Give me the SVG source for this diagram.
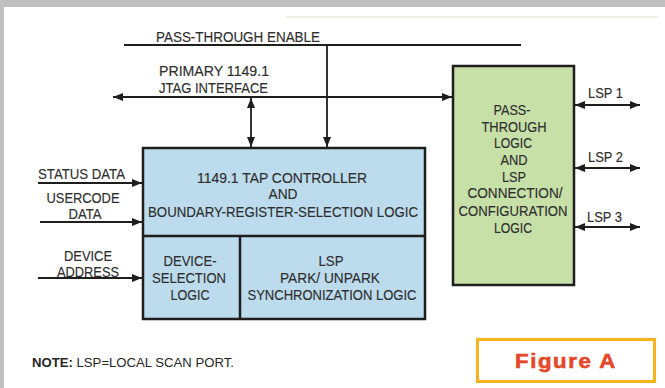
<svg xmlns="http://www.w3.org/2000/svg" width="665" height="388" viewBox="0 0 665 388">
  <style>
    .t { font-family: "Liberation Sans", Arial, sans-serif; font-size: 14px; fill: #2e2e2e; stroke: #2e2e2e; stroke-width: 0.15; }
    .c { text-anchor: middle; }
    .ln { stroke: #1e1e1e; stroke-width: 1.8; fill: none; }
    .box { stroke: #1e1e1e; stroke-width: 2.5; }
    .note { font-family: "Liberation Sans", Arial, sans-serif; font-size: 13px; fill: #262626; }
  </style>
  <defs>
    <marker id="ah" viewBox="0 0 10 8" refX="10" refY="4" markerWidth="10" markerHeight="8" markerUnits="userSpaceOnUse" orient="auto-start-reverse">
      <path d="M0 0 L10 4 L0 8 Z" fill="#1e1e1e"/>
    </marker>
  </defs>

  <!-- page frame -->
  <rect x="0" y="0" width="665" height="388" fill="#ffffff"/>
  <rect x="0" y="0" width="665" height="7" fill="#c0c0c0"/>
  <rect x="0" y="0" width="4" height="388" fill="#c0c0c0"/>
  <line x1="285" y1="17" x2="658" y2="17" stroke="#e6e2cc" stroke-width="1"/>

  <!-- connectors -->
  <g id="connectors">
    <path class="ln" d="M124 45 H521"/>
    <path class="ln" d="M327 45 V147" marker-end="url(#ah)"/>
    <path class="ln" d="M113 97 H452" marker-start="url(#ah)" marker-end="url(#ah)"/>
    <path class="ln" d="M251 98 V147" marker-start="url(#ah)" marker-end="url(#ah)"/>
    <path class="ln" d="M38 183 H142" marker-end="url(#ah)"/>
    <path class="ln" d="M40 222 H142" marker-end="url(#ah)"/>
    <path class="ln" d="M38 278 H142" marker-end="url(#ah)"/>
    <path class="ln" d="M575 105 H640" marker-start="url(#ah)" marker-end="url(#ah)"/>
    <path class="ln" d="M575 168 H640" marker-start="url(#ah)" marker-end="url(#ah)"/>
    <path class="ln" d="M575 227 H640" marker-start="url(#ah)" marker-end="url(#ah)"/>
  </g>

  <!-- signal labels -->
  <g id="labels">
    <text class="t" x="156" y="42" textLength="164" lengthAdjust="spacingAndGlyphs">PASS-THROUGH ENABLE</text>
    <text class="t" x="159" y="76" textLength="110" lengthAdjust="spacingAndGlyphs">PRIMARY 1149.1</text>
    <text class="t" x="159" y="93" textLength="109" lengthAdjust="spacingAndGlyphs">JTAG INTERFACE</text>
    <text class="t" x="38" y="179" textLength="87" lengthAdjust="spacingAndGlyphs">STATUS DATA</text>
    <text class="t c" x="83" y="203" textLength="73" lengthAdjust="spacingAndGlyphs">USERCODE</text>
    <text class="t c" x="85" y="219" textLength="33" lengthAdjust="spacingAndGlyphs">DATA</text>
    <text class="t c" x="88" y="261" textLength="48" lengthAdjust="spacingAndGlyphs">DEVICE</text>
    <text class="t c" x="88" y="277" textLength="62" lengthAdjust="spacingAndGlyphs">ADDRESS</text>
    <text class="t" x="588" y="98" textLength="35" lengthAdjust="spacingAndGlyphs">LSP 1</text>
    <text class="t" x="588" y="162" textLength="35" lengthAdjust="spacingAndGlyphs">LSP 2</text>
    <text class="t" x="587" y="222" textLength="35" lengthAdjust="spacingAndGlyphs">LSP 3</text>
  </g>

  <!-- TAP controller block -->
  <g id="tap-controller">
    <rect class="box" x="143" y="148" width="282" height="171" fill="#bcdced"/>
    <text class="t c" x="282" y="183" textLength="170" lengthAdjust="spacingAndGlyphs">1149.1 TAP CONTROLLER</text>
    <text class="t c" x="283" y="199" textLength="29" lengthAdjust="spacingAndGlyphs">AND</text>
    <text class="t c" x="283" y="217" textLength="270" lengthAdjust="spacingAndGlyphs">BOUNDARY-REGISTER-SELECTION LOGIC</text>
  </g>

  <g id="device-selection">
    <path class="box" d="M143 236 H425 M240 236 V319" fill="none"/>
    <text class="t c" x="190" y="266" textLength="53" lengthAdjust="spacingAndGlyphs">DEVICE-</text>
    <text class="t c" x="189" y="283" textLength="74" lengthAdjust="spacingAndGlyphs">SELECTION</text>
    <text class="t c" x="190" y="300" textLength="39" lengthAdjust="spacingAndGlyphs">LOGIC</text>
  </g>

  <g id="lsp-park">
    <text class="t c" x="331" y="266" textLength="25" lengthAdjust="spacingAndGlyphs">LSP</text>
    <text class="t c" x="330" y="283" textLength="100" lengthAdjust="spacingAndGlyphs">PARK/ UNPARK</text>
    <text class="t c" x="332" y="300" textLength="169" lengthAdjust="spacingAndGlyphs">SYNCHRONIZATION LOGIC</text>
  </g>

  <!-- pass-through block -->
  <g id="pass-through">
    <rect class="box" x="453" y="66" width="121" height="219" fill="#c7e0a8"/>
    <text class="t c" x="512" y="115" textLength="37" lengthAdjust="spacingAndGlyphs">PASS-</text>
    <text class="t c" x="514" y="132" textLength="65" lengthAdjust="spacingAndGlyphs">THROUGH</text>
    <text class="t c" x="513" y="148" textLength="38" lengthAdjust="spacingAndGlyphs">LOGIC</text>
    <text class="t c" x="514" y="165" textLength="27" lengthAdjust="spacingAndGlyphs">AND</text>
    <text class="t c" x="514" y="182" textLength="24" lengthAdjust="spacingAndGlyphs">LSP</text>
    <text class="t c" x="515" y="198" textLength="95" lengthAdjust="spacingAndGlyphs">CONNECTION/</text>
    <text class="t c" x="513" y="216" textLength="109" lengthAdjust="spacingAndGlyphs">CONFIGURATION</text>
    <text class="t c" x="513" y="233" textLength="38" lengthAdjust="spacingAndGlyphs">LOGIC</text>
  </g>

  <!-- footnote -->
  <g id="note">
    <text class="note" x="32" y="367" textLength="202" lengthAdjust="spacingAndGlyphs"><tspan font-weight="bold">NOTE:</tspan> LSP=LOCAL SCAN PORT.</text>
  </g>

  <!-- figure caption -->
  <g id="figure-label">
    <rect x="477.5" y="339.5" width="177" height="42" fill="#ffffff" stroke="#f6b41e" stroke-width="3"/>
    <text x="566" y="368" text-anchor="middle" font-family="'Liberation Sans', Arial, sans-serif" font-size="21" font-weight="bold" fill="#e4472a" stroke="#e4472a" stroke-width="0.6" textLength="102" lengthAdjust="spacingAndGlyphs" letter-spacing="1.5">Figure A</text>
  </g>
</svg>
